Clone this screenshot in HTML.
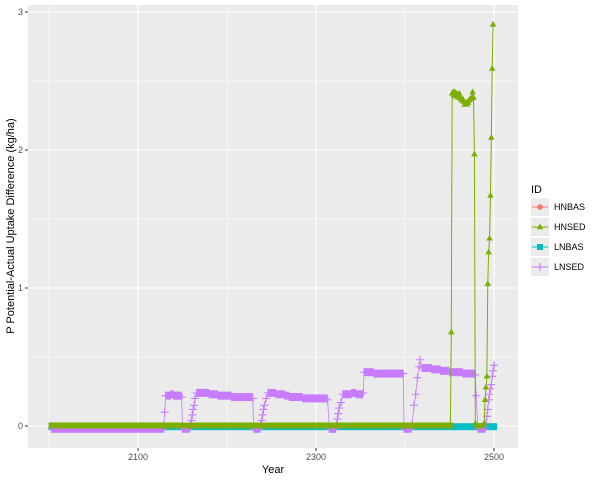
<!DOCTYPE html>
<html><head><meta charset="utf-8"><style>body{margin:0;background:#fff}svg{font-family:"Liberation Sans",sans-serif}</style></head><body>
<svg id="c" width="600" height="480" xmlns="http://www.w3.org/2000/svg"></svg>
<script>
const xTicks=[2100,2300,2500];
const yTicks=[0,1,2,3];
const lnsedPts=[[2003,-0.02],[2010,-0.02],[2020,-0.02],[2030,-0.02],[2040,-0.02],[2050,-0.02],[2060,-0.02],[2070,-0.02],[2080,-0.02],[2090,-0.02],[2100,-0.02],[2110,-0.02],[2120,-0.02],[2129,-0.02],[2129,0.01],[2130,0.1],[2131,0.22],[2134,0.22],[2137,0.23],[2140,0.22],[2143,0.22],[2146,0.22],[2149,0.21],[2150,-0.02],[2154,-0.02],[2158,-0.02],[2159,0.01],[2160,0.04],[2161,0.08],[2162,0.12],[2163,0.15],[2164,0.2],[2166,0.24],[2170,0.24],[2175,0.24],[2180,0.23],[2185,0.23],[2190,0.22],[2195,0.22],[2200,0.22],[2205,0.21],[2210,0.21],[2215,0.21],[2220,0.21],[2225,0.21],[2229,0.2],[2230,-0.02],[2234,-0.02],[2237,-0.02],[2238,0.01],[2239,0.04],[2240,0.08],[2241,0.12],[2242,0.15],[2244,0.2],[2246,0.24],[2250,0.24],[2255,0.23],[2260,0.23],[2265,0.22],[2270,0.21],[2275,0.21],[2280,0.21],[2285,0.2],[2290,0.2],[2295,0.2],[2300,0.2],[2305,0.2],[2310,0.2],[2313,0.19],[2315,-0.02],[2319,-0.02],[2322,-0.02],[2323,0.01],[2324,0.05],[2325,0.09],[2326,0.13],[2328,0.17],[2330,0.23],[2335,0.23],[2340,0.24],[2345,0.23],[2350,0.23],[2353,0.24],[2354,0.39],[2360,0.39],[2365,0.38],[2370,0.38],[2375,0.38],[2380,0.38],[2385,0.38],[2390,0.38],[2395,0.38],[2398,0.38],[2399,-0.02],[2403,-0.02],[2407,-0.02],[2408,0.01],[2410,0.15],[2412,0.23],[2414,0.35],[2416,0.43],[2417,0.48],[2419,0.42],[2425,0.42],[2430,0.41],[2435,0.41],[2440,0.4],[2445,0.4],[2450,0.39],[2455,0.39],[2460,0.39],[2465,0.38],[2470,0.38],[2475,0.38],[2479,0.37],[2480,0.22],[2482,-0.02],[2486,-0.02],[2490,-0.02],[2491,0.02],[2492,0.07],[2493,0.12],[2494,0.19],[2495,0.23],[2496,0.27],[2497,0.3],[2498,0.36],[2499,0.4],[2500,0.44]];
const hnsedZeroYears=[2003,2451];
const hnsedPts=[[2452,0.68],[2453,2.41],[2454,2.42],[2455,2.4],[2456,2.42],[2457,2.39],[2458,2.41],[2459,2.4],[2460,2.38],[2461,2.41],[2462,2.38],[2463,2.37],[2464,2.36],[2465,2.37],[2466,2.35],[2467,2.33],[2468,2.34],[2469,2.33],[2470,2.35],[2471,2.34],[2472,2.36],[2473,2.37],[2474,2.37],[2475,2.38],[2476,2.42],[2477,2.38],[2478,1.97],[2479,0.02],[2481,0],[2483,0],[2485,0],[2487,0],[2489,0.02],[2490,0.19],[2491,0.28],[2492,0.36],[2493,1.03],[2494,1.26],[2495,1.36],[2496,1.67],[2497,2.09],[2498,2.59],[2499,2.91]];
const lnbasYears=[2003,2500];
const lnbasVal=-0.005;

const NS="http://www.w3.org/2000/svg";
const svg=document.getElementById('c');
const X=y=>49+(y-2000)*0.89;
const Y=v=>426-v*138;
function el(t,a,p){const e=document.createElementNS(NS,t);for(const k in a)e.setAttribute(k,a[k]);(p||svg).appendChild(e);return e;}
const panel=el('rect',{x:28,y:5,width:490,height:443,fill:'#ebebeb'});


const grid=el('g',{});


[2000,2200,2400].forEach(t=>el('line',{x1:X(t),x2:X(t),y1:5,y2:448,stroke:'#fff','stroke-width':0.5},grid));
[0.5,1.5,2.5].forEach(t=>el('line',{x1:28,x2:518,y1:Y(t),y2:Y(t),stroke:'#fff','stroke-width':0.5},grid));
xTicks.forEach(t=>el('line',{x1:X(t),x2:X(t),y1:5,y2:448,stroke:'#fff','stroke-width':1.1},grid));
yTicks.forEach(t=>el('line',{x1:28,x2:518,y1:Y(t),y2:Y(t),stroke:'#fff','stroke-width':1.1},grid));
const ax=el('g',{'font-size':'9','fill':'#4d4d4d'});


xTicks.forEach(t=>{el('line',{x1:X(t),x2:X(t),y1:448,y2:451,stroke:'#333'},ax);const tx=el('text',{x:X(t),y:460,'text-anchor':'middle'},ax);tx.textContent=t;});
yTicks.forEach(t=>{el('line',{x1:25,x2:28,y1:Y(t),y2:Y(t),stroke:'#333'},ax);const tx=el('text',{x:23,y:Y(t)+3,'text-anchor':'end'},ax);tx.textContent=t;});
const xt=el('text',{x:273,y:473,'text-anchor':'middle','font-size':'11',fill:'#000'});xt.textContent='Year';


const yt=el('text',{x:14,y:226,'text-anchor':'middle','font-size':'11',fill:'#000',transform:'rotate(-90 14 226)'});yt.textContent='P Potential-Actual Uptake Difference (kg/ha)';


function plus(g,x,y,c){el('path',{d:`M${x-4} ${y}h8M${x} ${y-4}v8`,stroke:c,'stroke-width':1.1},g);}
function tri(g,x,y,c){el('path',{d:`M${x} ${y-3.5}L${x+3.3} ${y+2.2}L${x-3.3} ${y+2.2}Z`,fill:c},g);}
function sq(g,x,y,c){el('rect',{x:x-3,y:y-3,width:6,height:6,fill:c},g);}
// HNBAS (hidden beneath)
const hb=el('g',{});


el('line',{x1:X(2003),x2:X(2500),y1:Y(0),y2:Y(0),stroke:'#f8766d','stroke-width':4},hb);
// LNBAS
const lb=el('g',{});


el('rect',{x:X(lnbasYears[0])-3,y:Y(lnbasVal)-3.5,width:X(lnbasYears[1])-X(lnbasYears[0])+6,height:7,fill:'#00bfc4'},lb);
// LNSED
const ls=el('g',{});


el('polyline',{points:lnsedPts.map(p=>X(p[0])+','+Y(p[1])).join(' '),fill:'none',stroke:'#c77cff','stroke-width':0.8},ls);
for(let i=0;i<lnsedPts.length;i++){const p=lnsedPts[i];plus(ls,X(p[0]),Y(p[1]),'#c77cff');
 if(i+1<lnsedPts.length&&Math.abs(lnsedPts[i+1][1]-p[1])<0.02&&lnsedPts[i+1][0]-p[0]>1){el('rect',{x:X(p[0]),y:Y(p[1])-4,width:X(lnsedPts[i+1][0])-X(p[0]),height:8,fill:'#c77cff'},ls);}}
// HNSED
const hs=el('g',{});


el('rect',{x:X(hnsedZeroYears[0])-3,y:Y(0)-3.5,width:X(hnsedZeroYears[1])-X(hnsedZeroYears[0])+6,height:6,fill:'#7cae00'},hs);
const hp=[[hnsedZeroYears[1],0]].concat(hnsedPts);
el('polyline',{points:hp.map(p=>X(p[0])+','+Y(p[1])).join(' '),fill:'none',stroke:'#7cae00','stroke-width':1},hs);
hnsedPts.forEach(p=>tri(hs,X(p[0]),Y(p[1]),'#7cae00'));
// legend
const lg=el('g',{});


const lt=el('text',{x:531,y:193,'font-size':'11'},lg);lt.textContent='ID';
const names=['HNBAS','HNSED','LNBAS','LNSED'],cols=['#f8766d','#7cae00','#00bfc4','#c77cff'];
names.forEach((n,i)=>{const g=el('g',{},lg);
 
 
 const cy=207+i*20;el('rect',{x:531,y:cy-9,width:18,height:18,fill:'#ebebeb'},g);
 el('line',{x1:532,x2:548,y1:cy,y2:cy,stroke:cols[i],'stroke-width':1},g);
 if(i==0)el('circle',{cx:540,cy:cy,r:2.8,fill:cols[i]},g);
 if(i==1)tri(g,540,cy,cols[i]);
 if(i==2)sq(g,540,cy,cols[i]);
 if(i==3)plus(g,540,cy,cols[i]);
 const t=el('text',{x:554,y:cy+3,'font-size':'9',fill:'#000'},g);t.textContent=n;});
</script>
</body></html>
